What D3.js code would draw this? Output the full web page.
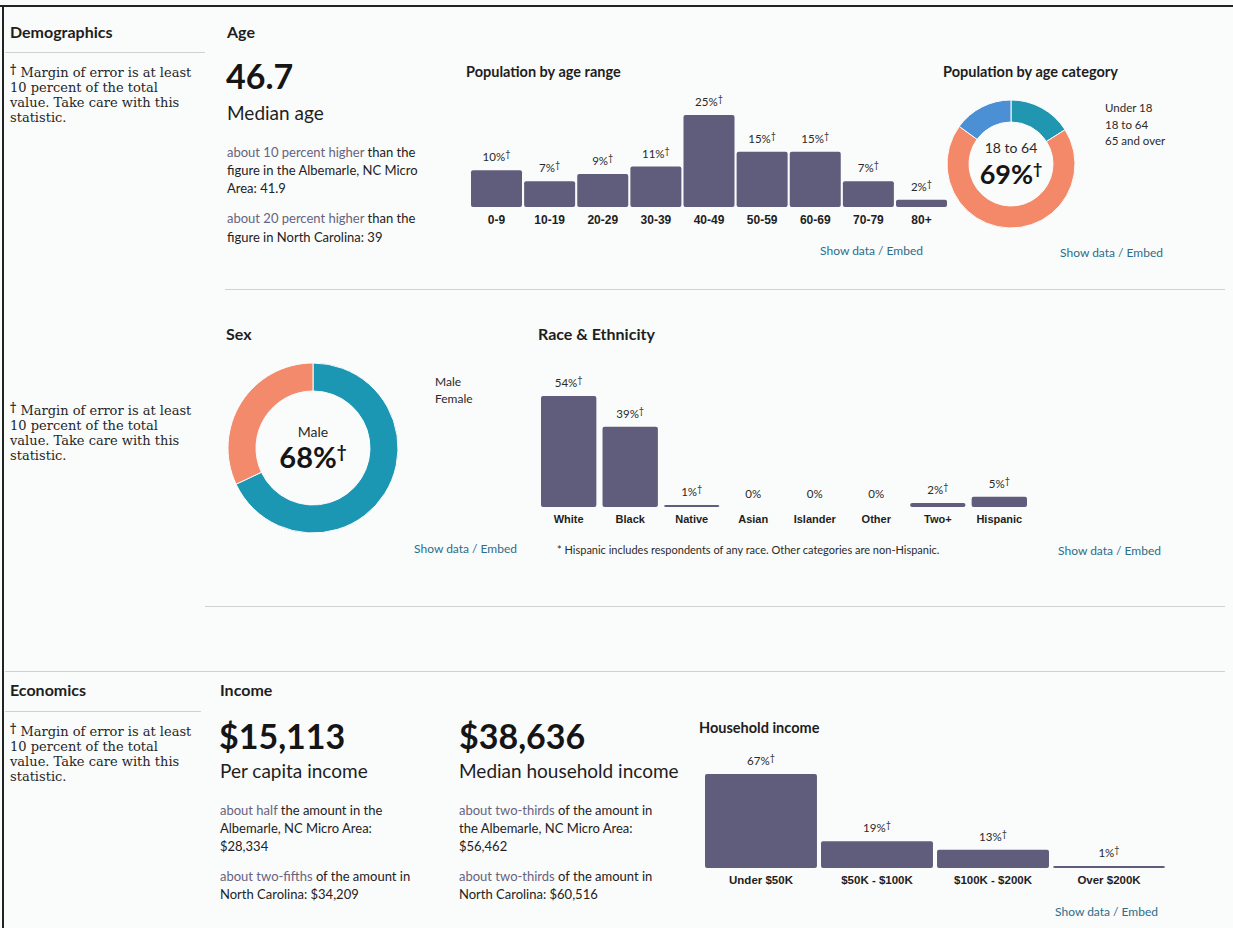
<!DOCTYPE html>
<html>
<head>
<meta charset="utf-8">
<script src="https://cdn.jsdelivr.net/npm/d3@7"></script>
<style>
  body { margin: 0; background: #fafbfb; }
  svg { display: block; font-family: Lato, "Noto Sans", sans-serif; }
  .hd { font-weight: 700; font-size: 16px; fill: #1e1e1e; }
  .title { font-weight: 700; font-size: 14.5px; fill: #1e1e1e; }
  .note { font-family: "DejaVu Serif", serif; font-size: 13px; fill: #262626; }
  .para { font-size: 13px; fill: #222; }
  .hl { fill: #67637f; }
  .big { font-weight: 700; font-size: 34px; fill: #151515; }
  .sub { font-size: 19px; fill: #1e1e1e; }
  .val { font-size: 11.5px; fill: #2a2a2a; }
  .foot { font-size: 11px; fill: #2a2a2a; }
  .cat text { font-weight: 700; fill: #1e1e1e; }
  .link { font-size: 12px; fill: #2c6d88; }
  .leg { fill: #2a2a2a; }
  .rule { stroke: #d0d2d2; stroke-width: 1; }
</style>
</head>
<body>
<div id="page"></div>
<script>
// données
var ageRanges = ["0-9", "10-19", "20-29", "30-39", "40-49", "50-59", "60-69", "70-79", "80+"];
var ageValues = [10, 7, 9, 11, 25, 15, 15, 7, 2];

var ageCats = ["Under 18", "18 to 64", "65 and over"];
var ageCatValues = [16, 69, 15];
var ageCatColors = ["#2196b0", "#f4896a", "#4b8fd5"];

var sexCats = ["Male", "Female"];
var sexValues = [68, 32];
var sexColors = ["#1b97b4", "#f28a6b"];

var raceCats = ["White", "Black", "Native", "Asian", "Islander", "Other", "Two+", "Hispanic"];
var raceValues = [54, 39, 1, 0, 0, 0, 2, 5];

var incomeCats = ["Under $50K", "$50K - $100K", "$100K - $200K", "Over $200K"];
var incomeValues = [67, 19, 13, 1];

var barColor = "#605c7b";
var W = 1233, H = 928;

var svg = d3.select("#page").append("svg")
    .attr("width", W)
    .attr("height", H);

svg.append("rect").attr("width", W).attr("height", H).attr("fill", "#fafbfb");

// cadre noir du scan
svg.append("line").attr("x1", 0).attr("x2", W).attr("y1", 6).attr("y2", 6)
    .attr("stroke", "#222").attr("stroke-width", 2);
svg.append("line").attr("x1", 3).attr("x2", 3).attr("y1", 6).attr("y2", H)
    .attr("stroke", "#222").attr("stroke-width", 2);

// petites fonctions utilitaires
function rule(x1, x2, y) {
    svg.append("line").attr("class", "rule")
        .attr("x1", x1).attr("x2", x2).attr("y1", y + 0.5).attr("y2", y + 0.5);
}
function label(x, y, cls, txt, anchor) {
    return svg.append("text").attr("class", cls)
        .attr("x", x).attr("y", y)
        .attr("text-anchor", anchor || "start")
        .text(txt);
}
function note(y) {
    var lines = ["Margin of error is at least", "10 percent of the total", "value. Take care with this", "statistic."];
    var t = svg.append("text").attr("class", "note").attr("x", 10).attr("y", y);
    lines.forEach(function(l, i) {
        var ts = t.append("tspan").attr("x", 10).attr("y", y + i * 15);
        if (i === 0) {
            ts.append("tspan").attr("font-size", "12px").attr("font-weight", 700).attr("dy", -3).text("\u2020 ");
            ts.append("tspan").attr("dy", 3).text(l);
        } else {
            ts.text(l);
        }
    });
}
function para(x, y, lines) {
    var t = svg.append("text").attr("class", "para").attr("x", x).attr("y", y);
    lines.forEach(function(l) {
        var row = t.append("tspan").attr("x", x).attr("y", l.y);
        l.parts.forEach(function(p) {
            row.append("tspan").attr("class", p[1] ? "hl" : null).text(p[0]);
        });
    });
}
function dagger(sel, txt, size, dy) {
    sel.text(null);
    sel.append("tspan").text(txt);
    sel.append("tspan").attr("font-size", size).attr("dy", dy).text("\u2020");
}

// barres génériques
function bars(cats, vals, x0, x1, yBase, hMax, pad, catSize) {
    var x = d3.scaleBand().domain(cats).range([x0, x1]).paddingInner(pad).paddingOuter(0);
    var y = d3.scaleLinear().domain([0, d3.max(vals)]).range([yBase, yBase - hMax]);
    var g = svg.append("g");
    g.selectAll("rect")
        .data(vals)
        .enter()
        .append("rect")
        .attr("x", function(d, i) { return x(cats[i]); })
        .attr("y", function(d) { return d > 0 ? Math.min(y(d), yBase - 2) : yBase; })
        .attr("width", x.bandwidth())
        .attr("height", function(d) { return d > 0 ? Math.max(yBase - y(d), 2) : 0; })
        .attr("rx", 2)
        .attr("fill", barColor);
    g.selectAll("text.val")
        .data(vals)
        .enter()
        .append("text")
        .attr("class", "val")
        .attr("text-anchor", "middle")
        .attr("x", function(d, i) { return x(cats[i]) + x.bandwidth() / 2; })
        .attr("y", function(d) { return (d > 0 ? Math.min(y(d), yBase - 2) : yBase) - 9; })
        .each(function(d) {
            if (d > 0) dagger(d3.select(this), d + "%", "9px", -4);
            else d3.select(this).text(d + "%");
        });
    svg.append("g")
        .attr("class", "cat")
        .attr("transform", "translate(0," + yBase + ")")
        .call(d3.axisBottom(x).tickSize(0).tickPadding(8))
        .call(function(a) { a.select(".domain").remove(); })
        .selectAll("text").attr("font-family", null).attr("fill", null)
        .attr("font-size", catSize);
}

// donut générique
function donut(cats, vals, colors, cx, cy, rOut, rIn, mainIdx, sizeBig) {
    var pie = d3.pie().sort(null).value(function(d) { return d; });
    var arc = d3.arc().innerRadius(rIn).outerRadius(rOut);
    var g = svg.append("g").attr("transform", "translate(" + cx + "," + cy + ")");
    g.selectAll("path")
        .data(pie(vals))
        .enter()
        .append("path")
        .attr("d", arc)
        .attr("fill", function(d, i) { return colors[i]; })
        .attr("stroke", "#fafbfb")
        .attr("stroke-width", 1);
    g.append("text").attr("class", "leg").attr("text-anchor", "middle")
        .attr("y", -11).style("font-size", "14px").text(cats[mainIdx]);
    var big = g.append("text").attr("text-anchor", "middle")
        .attr("y", 20).attr("font-weight", 700).attr("font-size", sizeBig).attr("fill", "#151515");
    dagger(big, vals[mainIdx] + "%", Math.round(parseFloat(sizeBig) * 0.6) + "px", -10);
}

// ----- Démographie : âge -----
label(10, 38, "hd", "Demographics");
rule(5, 205, 52);
note(77);

label(227, 38, "hd", "Age");
label(226, 89, "big", "46.7");
label(227, 120, "sub", "Median age");
para(227, 157, [
    {y: 157, parts: [["about 10 percent higher", true], [" than the", false]]},
    {y: 175, parts: [["figure in the Albemarle, NC Micro", false]]},
    {y: 193, parts: [["Area: 41.9", false]]},
    {y: 223, parts: [["about 20 percent higher", true], [" than the", false]]},
    {y: 242, parts: [["figure in North Carolina: 39", false]]}
]);

label(466, 77, "title", "Population by age range");
bars(ageRanges, ageValues, 471, 947, 207, 92, 0.04, "12px");
label(923, 255, "link", "Show data / Embed", "end");

label(943, 77, "title", "Population by age category");
donut(ageCats, ageCatValues, ageCatColors, 1011, 164, 64, 42, 1, "27px");
ageCats.forEach(function(c, i) { label(1105, 112 + i * 16.5, "leg", c).style("font-size", "11.5px"); });
label(1163, 257, "link", "Show data / Embed", "end");

rule(225, 1225, 289);

// ----- Sexe et origine -----
note(415);
label(226, 340, "hd", "Sex");
donut(sexCats, sexValues, sexColors, 313, 448, 85, 57, 0, "29px");
sexCats.forEach(function(c, i) { label(435, 386 + i * 16.5, "leg", c).style("font-size", "12px"); });
label(517, 553, "link", "Show data / Embed", "end");

label(538, 340, "hd", "Race & Ethnicity");
bars(raceCats, raceValues, 541, 1027, 507, 111, 0.1, "11px");
label(557, 554, "foot", "* Hispanic includes respondents of any race. Other categories are non-Hispanic.");
label(1161, 555, "link", "Show data / Embed", "end");

rule(205, 1225, 606);
rule(5, 1225, 671);

// ----- Économie : revenus -----
label(10, 696, "hd", "Economics");
rule(5, 201, 711);
note(736);

label(220, 696, "hd", "Income");
label(219, 749, "big", "$15,113");
label(220, 778, "sub", "Per capita income");
para(220, 815, [
    {y: 815, parts: [["about half", true], [" the amount in the", false]]},
    {y: 833, parts: [["Albemarle, NC Micro Area:", false]]},
    {y: 851, parts: [["$28,334", false]]},
    {y: 881, parts: [["about two-fifths", true], [" of the amount in", false]]},
    {y: 899, parts: [["North Carolina: $34,209", false]]}
]);

label(459, 749, "big", "$38,636");
label(459, 778, "sub", "Median household income");
para(459, 815, [
    {y: 815, parts: [["about two-thirds", true], [" of the amount in", false]]},
    {y: 833, parts: [["the Albemarle, NC Micro Area:", false]]},
    {y: 851, parts: [["$56,462", false]]},
    {y: 881, parts: [["about two-thirds", true], [" of the amount in", false]]},
    {y: 899, parts: [["North Carolina: $60,516", false]]}
]);

label(699, 733, "title", "Household income");
bars(incomeCats, incomeValues, 705, 1165, 868, 94, 0.035, "11.5px");
label(1158, 916, "link", "Show data / Embed", "end");
</script>
</body>
</html>
